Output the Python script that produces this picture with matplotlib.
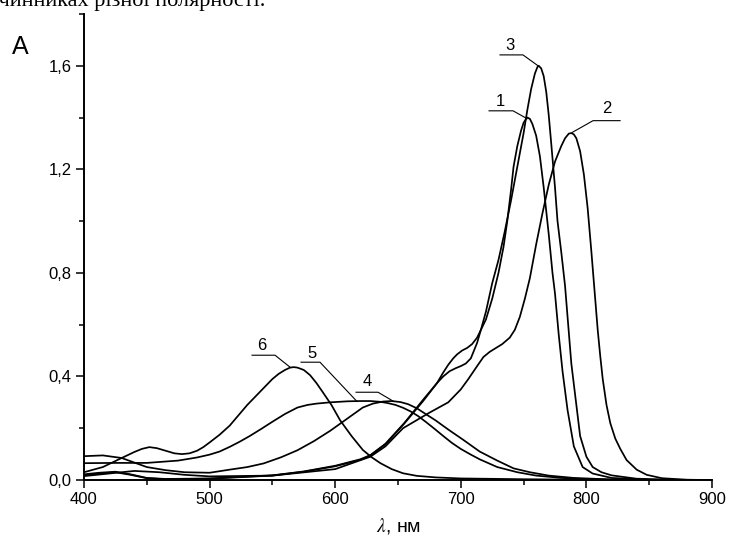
import matplotlib
matplotlib.use("Agg")
import matplotlib.pyplot as plt
from matplotlib.ticker import MultipleLocator, FuncFormatter

# Absorption spectra, curves 1-6 (wavelength in nm, absorbance)
wl1 = [400, 412, 425, 437, 450, 465, 500, 550, 575, 600, 620, 628, 640, 655, 670, 681,
       686, 690, 694, 697, 701, 705, 709, 713, 716, 720, 725, 730, 734, 737, 740, 742,
       745, 748, 750, 752, 753, 755, 757, 760, 763, 766, 770, 773, 775, 778, 781, 785,
       790, 797, 805, 820, 850, 900]
a1 = [0.022, 0.028, 0.032, 0.022, 0.008, 0.004, 0.006, 0.018, 0.033, 0.055, 0.08, 0.096,
      0.14, 0.22, 0.31, 0.374, 0.415, 0.445, 0.47, 0.485, 0.50, 0.51, 0.525, 0.55, 0.58,
      0.62, 0.70, 0.80, 0.90, 1.00, 1.12, 1.21, 1.29, 1.35, 1.38, 1.395, 1.40, 1.395,
      1.375, 1.33, 1.25, 1.13, 0.95, 0.80, 0.72, 0.56, 0.42, 0.27, 0.13, 0.05, 0.025,
      0.008, 0.001, 0.0]

wl2 = [400, 420, 440, 460, 480, 500, 550, 600, 628, 640, 654, 675, 690, 700, 706, 713,
       718, 723, 728, 733, 739, 743, 747, 751, 755, 760, 765, 770, 775, 780, 783, 786,
       788, 790, 792, 795, 798, 801, 804, 807, 809, 811, 813, 816, 819, 823, 827, 832,
       840, 848, 860, 880, 900]
a2 = [0.015, 0.025, 0.035, 0.03, 0.02, 0.014, 0.017, 0.042, 0.09, 0.13, 0.20, 0.26, 0.30,
      0.35, 0.39, 0.44, 0.475, 0.495, 0.51, 0.525, 0.55, 0.58, 0.63, 0.70, 0.78, 0.91,
      1.03, 1.14, 1.23, 1.29, 1.32, 1.338, 1.34, 1.335, 1.32, 1.27, 1.18, 1.05, 0.88,
      0.70, 0.58, 0.48, 0.39, 0.29, 0.22, 0.16, 0.12, 0.077, 0.04, 0.02, 0.007, 0.001,
      0.0]

wl3 = [400, 412, 425, 437, 450, 465, 500, 550, 575, 600, 620, 628, 640, 655, 670, 681,
       686, 691, 696, 700, 704, 708, 713, 716, 720, 725, 730, 735, 740, 745, 750, 753,
       756, 759, 761, 762, 764, 766, 768, 770, 772, 775, 777, 780, 783, 786, 788, 791,
       795, 800, 805, 812, 820, 840, 870, 900]
a3 = [0.018, 0.025, 0.030, 0.020, 0.007, 0.003, 0.005, 0.017, 0.032, 0.053, 0.078, 0.095,
      0.138, 0.218, 0.305, 0.374, 0.40, 0.42, 0.432, 0.44, 0.45, 0.47, 0.53, 0.58, 0.65,
      0.76, 0.85, 0.96, 1.08, 1.21, 1.34, 1.43, 1.51, 1.57, 1.595, 1.60, 1.59, 1.56,
      1.50, 1.41, 1.30, 1.13, 1.00, 0.88, 0.75, 0.57, 0.45, 0.33, 0.17, 0.09, 0.05, 0.03,
      0.018, 0.005, 0.001, 0.0]

wl4 = [400, 415, 430, 450, 465, 480, 500, 516, 530, 543, 557, 570, 583, 596, 609, 622,
       630, 638, 645, 652, 658, 665, 672, 680, 690, 702, 715, 729, 742, 755, 770, 790,
       820, 860, 900]
a4 = [0.092, 0.095, 0.085, 0.05, 0.038, 0.03, 0.028, 0.04, 0.05, 0.064, 0.088, 0.115,
      0.15, 0.19, 0.235, 0.28, 0.295, 0.303, 0.305, 0.301, 0.293, 0.277, 0.255, 0.23,
      0.195, 0.155, 0.11, 0.075, 0.045, 0.03, 0.017, 0.008, 0.002, 0.0, 0.0]

wl5 = [400, 425, 450, 475, 490, 500, 508, 516, 524, 532, 541, 550, 560, 570, 578, 585,
       596, 610, 620, 628, 636, 642, 648, 654, 660, 666, 672, 679, 686, 693, 700, 708,
       715, 729, 745, 760, 780, 800, 840, 900]
a5 = [0.065, 0.066, 0.066, 0.075, 0.087, 0.098, 0.11, 0.128, 0.148, 0.17, 0.197, 0.225,
      0.255, 0.28, 0.29, 0.295, 0.30, 0.304, 0.305, 0.305, 0.302, 0.297, 0.29, 0.279,
      0.265, 0.247, 0.225, 0.198, 0.17, 0.143, 0.12, 0.098, 0.08, 0.05, 0.03, 0.017,
      0.008, 0.003, 0.0, 0.0]

wl6 = [400, 415, 430, 440, 446, 452, 458, 465, 472, 478, 484, 490, 495, 500, 508, 516,
       523, 530, 540, 550, 555, 560, 564, 567, 570, 575, 580, 585, 590, 597, 604, 613,
       622, 629, 636, 645, 654, 665, 680, 700, 750, 800, 900]
a6 = [0.03, 0.05, 0.085, 0.108, 0.12, 0.127, 0.123, 0.113, 0.103, 0.10, 0.103, 0.113,
      0.127, 0.145, 0.175, 0.21, 0.25, 0.29, 0.34, 0.39, 0.41, 0.425, 0.434, 0.436, 0.434,
      0.425, 0.405, 0.375, 0.34, 0.29, 0.23, 0.17, 0.116, 0.088, 0.065, 0.042, 0.026,
      0.016, 0.01, 0.006, 0.003, 0.001, 0.0]

curve_names = ["1", "2", "3", "4", "5", "6"]
wavelengths = [wl1, wl2, wl3, wl4, wl5, wl6]
absorbance = [a1, a2, a3, a4, a5, a6]

x_ticks = [400, 500, 600, 700, 800, 900]
y_ticks = [0.0, 0.4, 0.8, 1.2, 1.6]

# Leader lines for the curve numbers: (text x, text y, underline x0, x1, y, end x, end y)
leaders = {
    "1": (731.5, 1.462, 722.5, 741.6, 1.426, 752.7, 1.396),
    "2": (816.4, 1.434, 826.8, 805.3, 1.388, 788.5, 1.342),
    "3": (739.5, 1.678, 731.2, 749.5, 1.642, 761.5, 1.600),
    "4": (625.3, 0.382, 616.6, 634.1, 0.339, 646.0, 0.305),
    "5": (581.5, 0.490, 572.8, 587.9, 0.455, 617.4, 0.303),
    "6": (541.7, 0.520, 533.8, 552.1, 0.482, 564.0, 0.436),
}

plt.rcParams["font.family"] = ["Liberation Sans", "DejaVu Sans"]
plt.rcParams["mathtext.fontset"] = "stix"

fig = plt.figure(figsize=(7.29, 5.43), dpi=100)
ax = fig.add_axes([84 / 729, 1 - 480 / 543, (712 - 84) / 729, (480 - 14) / 543])

for name, wl, a in zip(curve_names, wavelengths, absorbance):
    ax.plot(wl, a, color="black", lw=1.25, solid_joinstyle="round")

for name, (tx, ty, ux0, ux1, uy, ex, ey) in leaders.items():
    ax.plot([ux0, ux1, ex], [uy, uy, ey], color="black", lw=0.8)
    ax.text(tx, ty, name, ha="center", va="center", fontsize=12)

ax.set_xlim(400, 900)
ax.set_ylim(0, 1.8)
ax.set_xticks(x_ticks)
ax.set_yticks(y_ticks)
ax.xaxis.set_minor_locator(MultipleLocator(50))
ax.yaxis.set_minor_locator(MultipleLocator(0.2))
ax.yaxis.set_major_formatter(FuncFormatter(lambda v, p: f"{v:.1f}".replace(".", ",")))
ax.tick_params(which="major", direction="out", length=5.5, width=1.1, labelsize=12)
ax.tick_params(which="minor", direction="out", length=3.5, width=1.1)
for side in ("top", "right"):
    ax.spines[side].set_visible(False)
for side in ("left", "bottom"):
    ax.spines[side].set_linewidth(1.4)

ax.set_xlabel(r"$\lambda$, нм", fontsize=14, labelpad=6)
fig.text(20 / 729, 1 - 47 / 543, "A", fontsize=18, ha="center", va="center")

# tail of the preceding caption line of the page
fig.text(265 / 729, 1 - 6 / 543, "розчинниках різної полярності.", ha="right",
         va="baseline", fontsize=16, family="Liberation Serif")

fig.savefig("out.png", dpi=100)
